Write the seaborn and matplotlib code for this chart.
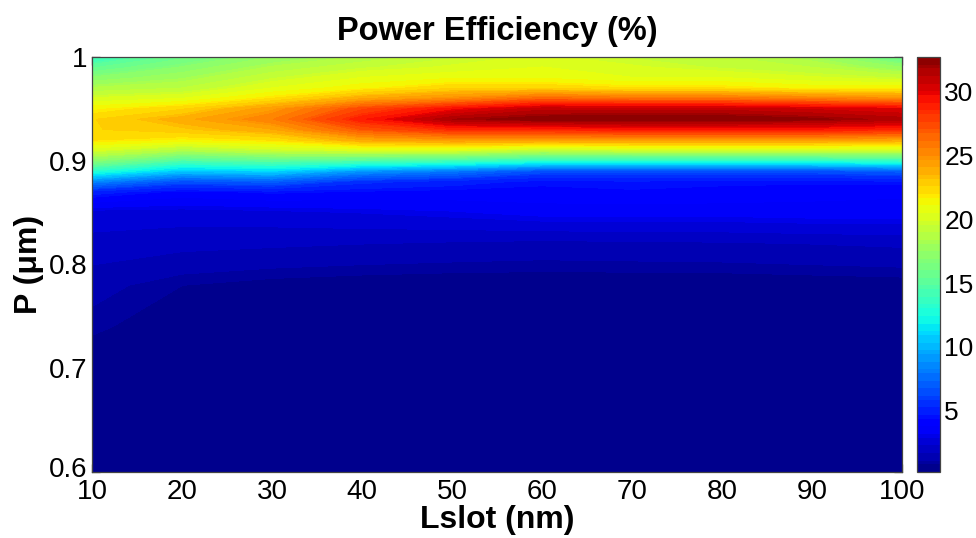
import numpy as np
import pandas as pd
import matplotlib
matplotlib.use("Agg")
import matplotlib.pyplot as plt
import matplotlib.transforms as mtransforms
import seaborn as sns
from matplotlib.colors import ListedColormap, Normalize

# Slot length (nm) and period (um) sampled in the sweep
lslot_nm = [10, 20, 30, 40, 50, 60, 70, 80, 90, 100]
period_um = [0.60, 0.70, 0.74, 0.78, 0.82, 0.85, 0.87, 0.88, 0.89, 0.90,
             0.91, 0.92, 0.93, 0.94, 0.95, 0.96, 0.97, 0.98, 0.99, 1.00]

# Power efficiency (%) for each slot length, ordered like period_um
eff_10 = [0.30, 0.40, 0.90, 1.30, 2.10, 2.60, 5.0, 8.5, 13.0, 17.0, 20.0, 22.0, 22.5, 22.5, 21.5, 20.0, 18.5, 17.0, 15.3, 13.5]
eff_20 = [0.30, 0.35, 0.45, 0.80, 1.90, 2.60, 4.2, 6.5, 10.5, 14.5, 18.5, 21.5, 23.0, 23.8, 22.5, 20.5, 19.0, 18.0, 17.0, 15.8]
eff_30 = [0.25, 0.30, 0.35, 0.60, 1.80, 2.70, 4.5, 7.0, 11.0, 15.0, 19.5, 22.0, 24.0, 25.5, 24.5, 22.0, 20.5, 19.5, 18.5, 17.5]
eff_40 = [0.25, 0.28, 0.30, 0.50, 1.70, 2.90, 4.3, 5.5, 9.0, 14.5, 20.0, 24.0, 27.0, 29.0, 27.5, 24.0, 21.5, 20.5, 19.5, 18.5]
eff_50 = [0.22, 0.25, 0.28, 0.45, 1.60, 3.10, 4.2, 5.0, 8.0, 14.0, 20.0, 24.5, 28.5, 31.8, 29.5, 25.0, 22.5, 21.0, 20.0, 19.5]
eff_60 = [0.20, 0.25, 0.30, 0.45, 1.50, 3.40, 4.2, 4.5, 6.5, 13.0, 19.0, 24.5, 28.5, 32.6, 31.0, 26.5, 22.5, 21.0, 20.5, 20.0]
eff_70 = [0.20, 0.25, 0.30, 0.45, 1.55, 3.40, 4.3, 4.6, 6.5, 13.0, 19.5, 24.5, 29.0, 32.7, 31.0, 26.0, 22.0, 20.5, 20.0, 19.5]
eff_80 = [0.20, 0.25, 0.30, 0.45, 1.60, 3.40, 4.2, 4.5, 6.5, 13.0, 19.5, 24.5, 29.0, 32.7, 31.0, 26.0, 22.0, 20.5, 19.5, 19.0]
eff_90 = [0.20, 0.25, 0.30, 0.50, 1.70, 3.50, 4.0, 4.5, 6.5, 13.0, 19.5, 24.5, 29.0, 32.3, 30.5, 25.5, 21.5, 20.0, 19.0, 18.0]
eff_100 = [0.20, 0.25, 0.30, 0.55, 1.80, 3.50, 3.9, 4.6, 7.0, 13.5, 19.5, 24.0, 28.5, 31.5, 30.0, 25.0, 21.5, 19.5, 17.5, 15.5]

columns = [eff_10, eff_20, eff_30, eff_40, eff_50, eff_60, eff_70, eff_80, eff_90, eff_100]

records = []
for L, col in zip(lslot_nm, columns):
    for P, v in zip(period_um, col):
        records.append({"Lslot": L, "P": P, "eff": v})
df = pd.DataFrame(records)
grid = df.pivot(index="P", columns="Lslot", values="eff")

sns.set_style("ticks")
plt.rcParams["font.family"] = ["Liberation Sans", "DejaVu Sans"]
plt.rcParams["text.color"] = "black"
plt.rcParams["axes.labelcolor"] = "black"
plt.rcParams["xtick.color"] = "black"
plt.rcParams["ytick.color"] = "black"

fig = plt.figure(figsize=(9.76, 5.38), dpi=100)
ax = fig.add_axes([92 / 976, 66 / 538, 810 / 976, 415 / 538])
cax = fig.add_axes([917 / 976, 66 / 538, 23 / 976, 415 / 538])

# 64-colour jet map, many filled levels
jet64 = ListedColormap(sns.mpl_palette("jet", 64))
vmin, vmax = float(df["eff"].min()), float(df["eff"].max())
levels = np.linspace(vmin, vmax, 110)
X, Y = np.meshgrid(grid.columns.values, grid.index.values)
cs = ax.contourf(X, Y, grid.values, levels=levels, cmap=jet64,
                 norm=Normalize(vmin=vmin, vmax=vmax))

ax.set_xlim(10, 100)
ax.set_ylim(0.6, 1.0)
ax.set_xticks(lslot_nm)
ax.set_yticks([0.6, 0.7, 0.8, 0.9, 1.0])
ax.set_yticklabels(["0.6", "0.7", "0.8", "0.9", "1"])
ax.tick_params(axis="both", direction="in", length=6, width=0.9, top=True,
               right=True, labelsize=20, color="#1a1a1a")
ax.tick_params(axis="x", pad=5)
ax.tick_params(axis="y", pad=3)
# lift the bottom y label a few pixels so it clears the first x label
first_y = ax.yaxis.get_major_ticks()[0].label1
first_y.set_transform(first_y.get_transform() +
                      mtransforms.ScaledTranslation(0, 5 / 100, fig.dpi_scale_trans))
for s in ax.spines.values():
    s.set_color("#444444")
    s.set_linewidth(0.9)

ax.set_title("Power Efficiency (%)", fontsize=23.5, fontweight="bold", pad=12)
ax.set_xlabel("Lslot (nm)", fontsize=23, fontweight="bold", labelpad=0)
ax.set_ylabel("P (\u03bcm)", fontsize=23, fontweight="bold", labelpad=4)

cb = fig.colorbar(cs, cax=cax)
cb.set_ticks([5, 10, 15, 20, 25, 30])
cb.ax.tick_params(direction="in", length=5, width=0.9, left=True, right=True,
                  labelsize=19, pad=3, color="#1a1a1a")
cb.outline.set_edgecolor("#444444")
cb.outline.set_linewidth(0.9)

fig.savefig("out.png", dpi=100)
